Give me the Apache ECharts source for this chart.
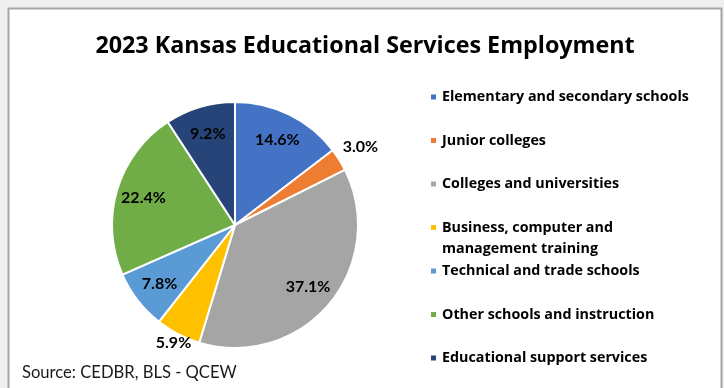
<!DOCTYPE html>
<html>
<head>
<meta charset="utf-8">
<script src="https://cdn.jsdelivr.net/npm/echarts@6/dist/echarts.min.js"></script>
<style>
  html, body { margin: 0; padding: 0; background: #efefef; }
  #chart { width: 724px; height: 388px; }
</style>
</head>
<body>
<div id="chart"></div>
<script>
const titleText = '2023 Kansas Educational Services Employment';
const sourceText = 'Source: CEDBR, BLS - QCEW';
const categories = [
  'Elementary and secondary schools',
  'Junior colleges',
  'Colleges and universities',
  'Business, computer and management training',
  'Technical and trade schools',
  'Other schools and instruction',
  'Educational support services'
];
const shares = [14.6, 3.0, 37.1, 5.9, 7.8, 22.4, 9.2];
const colors = ['#4472C4', '#ED7D31', '#A5A5A5', '#FFC000', '#5B9BD5', '#70AD47', '#264478'];

// label placement groups (style config)
const labelGroup = ['mid', 'outer', 'mid', 'edge', 'mid', 'mid', 'mid'];

const FONT = 'Lato';
const C = [235, 225];
const R = 123;
const ringFor = { mid: [62, R], outer: [125, 165], edge: [115, 145] };

const pieData = categories.map((c, i) => ({ name: c, value: shares[i], itemStyle: { color: colors[i] } }));

function labelSeries(group) {
  return {
    type: 'pie',
    center: C,
    radius: ringFor[group],
    startAngle: 90,
    clockwise: true,
    silent: true,
    animation: false,
    itemStyle: { color: 'rgba(0,0,0,0)', borderWidth: 0 },
    emphasis: { disabled: true },
    labelLine: { show: false },
    data: categories.map((c, i) => ({
      name: c,
      value: shares[i],
      label: { show: labelGroup[i] === group }
    })),
    label: {
      position: 'inside',
      formatter: p => p.value.toFixed(1) + '%',
      fontFamily: FONT,
      fontWeight: 'bold',
      fontSize: 16,
      color: '#000'
    }
  };
}

const legendCenter0 = 97, legendStep = 43.5, lh = 21;
// tall icon box for the two-line entry: visible square at the top, invisible speck at the bottom
const tallIcon = 'path://M0,0H7V7H0Z M0,27.95H0.05V28H0Z';
const legends = categories.map((c, i) => {
  const twoLine = c.startsWith('Business');
  const cy = legendCenter0 + i * legendStep;
  return {
    orient: 'vertical',
    left: 429,
    top: cy - lh / 2,
    padding: 0,
    icon: twoLine ? tallIcon : 'rect',
    itemWidth: 7,
    itemHeight: twoLine ? 28 : 7,
    selectedMode: false,
    formatter: n => n === 'Business, computer and management training' ? 'Business, computer and\nmanagement training' : n,
    textStyle: {
      fontFamily: 'Open Sans',
      fontWeight: 'bold',
      fontSize: 14.3,
      color: '#000',
      lineHeight: lh
    },
    data: [c]
  };
});

const chart = echarts.init(document.getElementById('chart'), null, { renderer: 'canvas' });
chart.setOption({
  animation: false,
  backgroundColor: '#efefef',
  graphic: [{
    type: 'rect',
    z: -10,
    shape: { x: 8.5, y: 8.5, width: 713, height: 390 },
    style: { fill: '#ffffff', stroke: '#a6a6a6', lineWidth: 2 },
    silent: true
  }],
  title: [{
    text: titleText,
    left: 365,
    top: 35,
    textAlign: 'center',
    padding: 0,
    textStyle: { fontFamily: 'Open Sans', fontWeight: 'bold', fontSize: 23.3, color: '#000' }
  }, {
    text: sourceText,
    left: 22,
    top: 364,
    padding: 0,
    textStyle: { fontFamily: FONT, fontWeight: 'normal', fontSize: 16.6, color: '#1a1a1a' }
  }],
  legend: legends,
  series: [
    {
      type: 'pie',
      center: C,
      radius: [0, R],
      startAngle: 90,
      clockwise: true,
      animation: false,
      label: { show: false },
      labelLine: { show: false },
      itemStyle: { borderColor: '#ffffff', borderWidth: 2 },
      emphasis: { disabled: true },
      data: pieData
    },
    labelSeries('mid'),
    labelSeries('outer'),
    labelSeries('edge')
  ]
});
</script>
</body>
</html>
